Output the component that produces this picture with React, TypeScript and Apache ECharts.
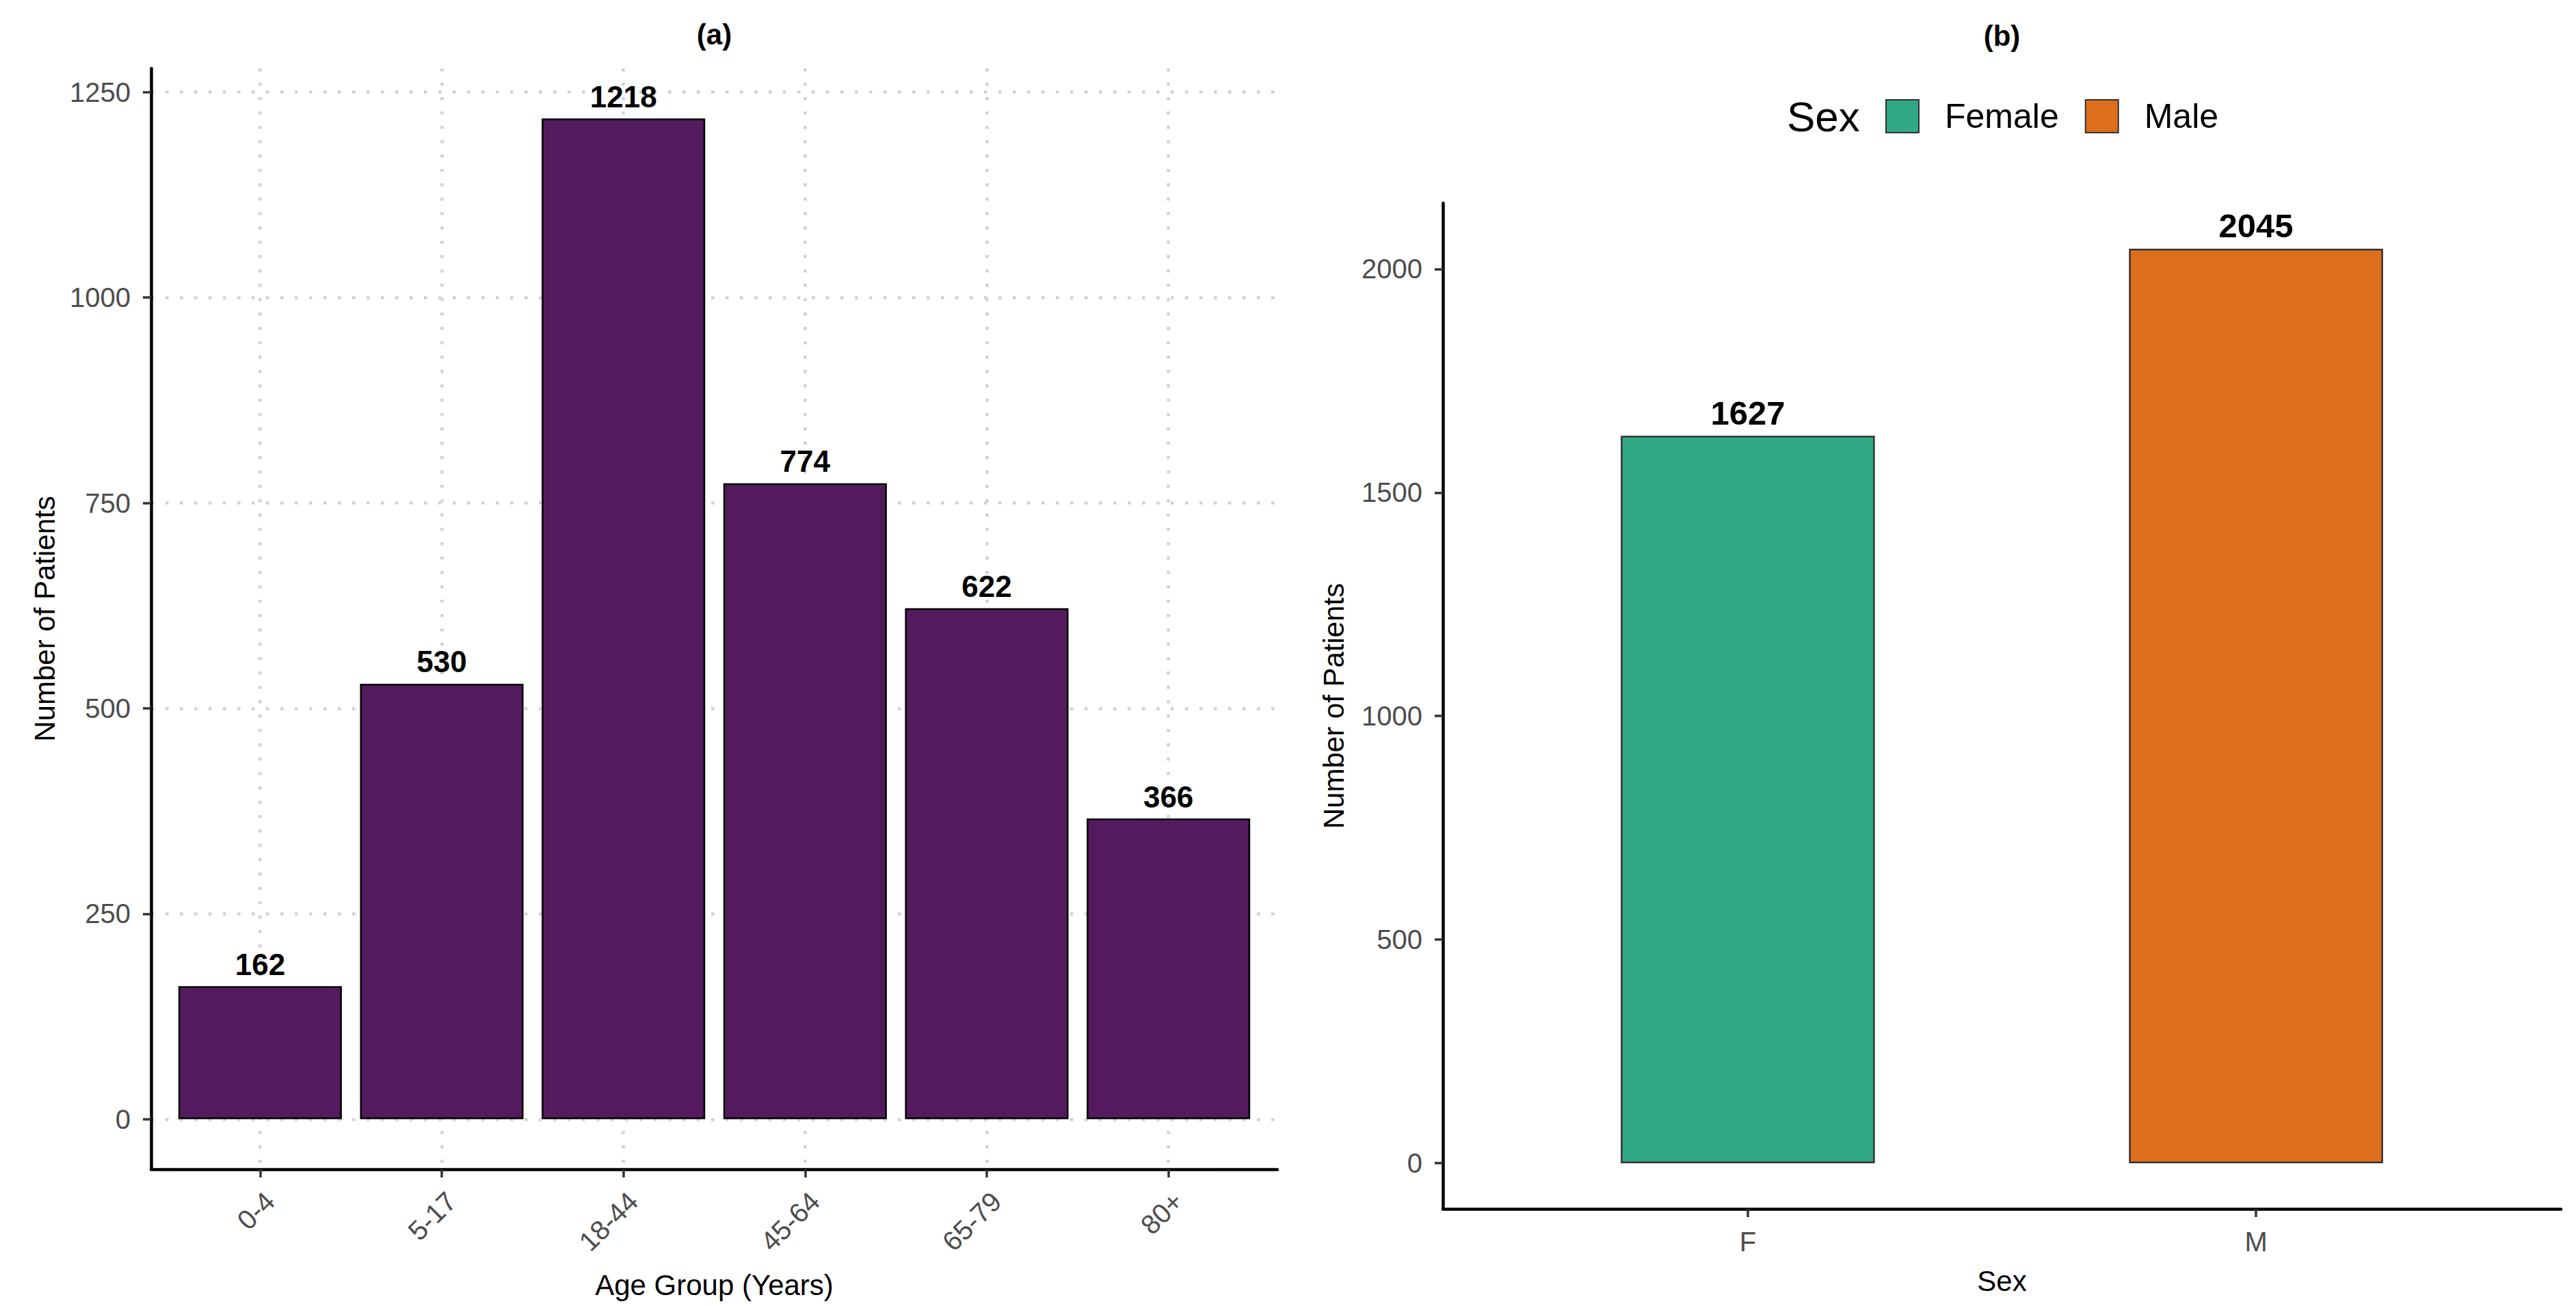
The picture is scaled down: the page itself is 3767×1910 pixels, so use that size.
import React, { useEffect, useRef } from "react";
import * as echarts from "echarts";

// ---------- data ----------
const ageGroups = ["0-4", "5-17", "18-44", "45-64", "65-79", "80+"];
const ageCounts = [162, 530, 1218, 774, 622, 366];
const ageTicks = [0, 250, 500, 750, 1000, 1250];

const sexCodes = ["F", "M"];
const sexNames = ["Female", "Male"];
const sexCounts = [1627, 2045];
const sexTicks = [0, 500, 1000, 1500, 2000];

// ---------- style ----------
const ageColor = "#541A5E";
const sexColors = ["#31A886", "#DD6E1C"];
const W = 3767;
const H = 1910;
const FONT = "'Liberation Sans', Arial, Helvetica, sans-serif";
const TICK_COLOR = "#4D4D4D";
const GRID_COLOR = "#D2D2D2";

// plot panels (pixel boxes)
const boxA = { x0: 221, x1: 1868, y0: 100, y1: 1710 };
const boxB = { x0: 2110, x1: 3745, y0: 297, y1: 1768 };

// ggplot-like expansion
const expandY = (vals: number[]) => {
  const mx = Math.max(...vals);
  return [-0.05 * mx, mx * 1.05];
};
const [aMin, aMax] = expandY(ageCounts);
const [bMin, bMax] = expandY(sexCounts);
const xRangeA = [0.4, ageGroups.length + 0.6];
const xRangeB = [0.4, sexCodes.length + 0.6];
const barWA = (0.9 * (boxA.x1 - boxA.x0)) / (xRangeA[1] - xRangeA[0]);
const barWB = (0.5 * (boxB.x1 - boxB.x0)) / (xRangeB[1] - xRangeB[0]);

const dotted = { color: GRID_COLOR, width: 4.5, type: [4.5, 16.5] as number[] };

const axisLineStyle = { show: true, onZero: false, lineStyle: { color: "#000", width: 4.5 } };
const tickStyle = { show: true, length: 12, lineStyle: { color: "#333", width: 3.5 } };
const tickLabel = { color: TICK_COLOR, fontSize: 40, fontFamily: FONT };
const nameStyle = { color: "#000", fontSize: 42, fontFamily: FONT, verticalAlign: "middle" };
const makeBarLabel = (fontSize: number, distance: number) => ({
  show: true,
  position: "top",
  distance,
  fontSize,
  fontWeight: "bold",
  color: "#000",
  fontFamily: FONT,
  formatter: (p: any) => String(p.value[1]),
});
const plain = (v: number) => String(v);

const option: any = {
  animation: false,
  backgroundColor: "#fff",
  textStyle: { fontFamily: FONT },
  grid: [
    { left: boxA.x0, right: W - boxA.x1, top: boxA.y0, bottom: H - boxA.y1, containLabel: false },
    { left: boxB.x0, right: W - boxB.x1, top: boxB.y0, bottom: H - boxB.y1, containLabel: false },
  ],
  xAxis: [
    {
      type: "value",
      gridIndex: 0,
      min: xRangeA[0],
      max: xRangeA[1],
      axisLine: axisLineStyle,
      axisTick: { ...tickStyle, customValues: ageGroups.map((_, i) => i + 1) },
      axisLabel: {
        ...tickLabel,
        customValues: ageGroups.map((_, i) => i + 1),
        formatter: (v: number) => ageGroups[Math.round(v) - 1] ?? "",
        rotate: 45,
        align: "right",
        verticalAlign: "top",
        margin: 26,
      },
      splitLine: { show: true, lineStyle: dotted },
      name: "Age Group (Years)",
      nameLocation: "middle",
      nameGap: 169,
      nameTextStyle: nameStyle,
    },
    {
      type: "value",
      gridIndex: 1,
      min: xRangeB[0],
      max: xRangeB[1],
      axisLine: axisLineStyle,
      axisTick: { ...tickStyle, customValues: sexCodes.map((_, i) => i + 1) },
      axisLabel: {
        ...tickLabel,
        customValues: sexCodes.map((_, i) => i + 1),
        formatter: (v: number) => sexCodes[Math.round(v) - 1] ?? "",
        margin: 28,
      },
      splitLine: { show: false },
      name: "Sex",
      nameLocation: "middle",
      nameGap: 105,
      nameTextStyle: nameStyle,
    },
  ],
  yAxis: [
    {
      type: "value",
      gridIndex: 0,
      min: aMin,
      max: aMax,
      axisLine: axisLineStyle,
      axisTick: { ...tickStyle, customValues: ageTicks },
      axisLabel: { ...tickLabel, customValues: ageTicks, margin: 30, formatter: plain },
      splitLine: { show: true, lineStyle: dotted },
      name: "Number of Patients",
      nameLocation: "middle",
      nameGap: 156,
      nameTextStyle: nameStyle,
    },
    {
      type: "value",
      gridIndex: 1,
      min: bMin,
      max: bMax,
      axisLine: axisLineStyle,
      axisTick: { ...tickStyle, customValues: sexTicks },
      axisLabel: { ...tickLabel, customValues: sexTicks, margin: 30, formatter: plain },
      splitLine: { show: false },
      name: "Number of Patients",
      nameLocation: "middle",
      nameGap: 160,
      nameTextStyle: nameStyle,
    },
  ],
  legend: {
    data: sexNames,
    left: 2757,
    top: 145,
    padding: 0,
    orient: "horizontal",
    icon: "rect",
    itemWidth: 48,
    itemHeight: 48,
    itemGap: 38,
    selectedMode: false,
    textStyle: { fontSize: 50, color: "#000", fontFamily: FONT, padding: [0, 0, 0, 33] },
  },
  graphic: [
    {
      type: "text",
      x: (boxA.x0 + boxA.x1) / 2,
      y: 50,
      style: {
        text: "(a)",
        fill: "#000",
        font: `bold 42px ${FONT}`,
        textAlign: "center",
        textVerticalAlign: "middle",
      },
    },
    {
      type: "text",
      x: (boxB.x0 + boxB.x1) / 2,
      y: 52,
      style: {
        text: "(b)",
        fill: "#000",
        font: `bold 42px ${FONT}`,
        textAlign: "center",
        textVerticalAlign: "middle",
      },
    },
    {
      type: "text",
      x: 2613,
      y: 170,
      style: {
        text: "Sex",
        fill: "#000",
        font: `62px ${FONT}`,
        textAlign: "left",
        textVerticalAlign: "middle",
      },
    },
  ],
  series: [
    {
      name: "Age",
      type: "bar",
      xAxisIndex: 0,
      yAxisIndex: 0,
      barWidth: barWA,
      data: ageGroups.map((_, i) => [i + 1, ageCounts[i]]),
      itemStyle: { color: ageColor, borderColor: "#000", borderWidth: 2.5 },
      label: makeBarLabel(44, 10),
    },
    ...sexNames.map((name, i) => ({
      name,
      type: "bar",
      xAxisIndex: 1,
      yAxisIndex: 1,
      barWidth: barWB,
      barGap: "-100%",
      data: [[i + 1, sexCounts[i]]],
      itemStyle: { color: sexColors[i], borderColor: "#333", borderWidth: 2.5 },
      label: makeBarLabel(49, 9),
    })),
  ],
};

export default function App() {
  const ref = useRef<HTMLDivElement>(null);
  useEffect(() => {
    document.body.style.margin = "0";
    const chart = echarts.init(ref.current as HTMLDivElement, null, {
      renderer: "svg",
      width: W,
      height: H,
    });
    chart.setOption(option);
    return () => chart.dispose();
  }, []);
  return <div ref={ref} style={{ width: W, height: H, background: "#fff" }} />;
}
